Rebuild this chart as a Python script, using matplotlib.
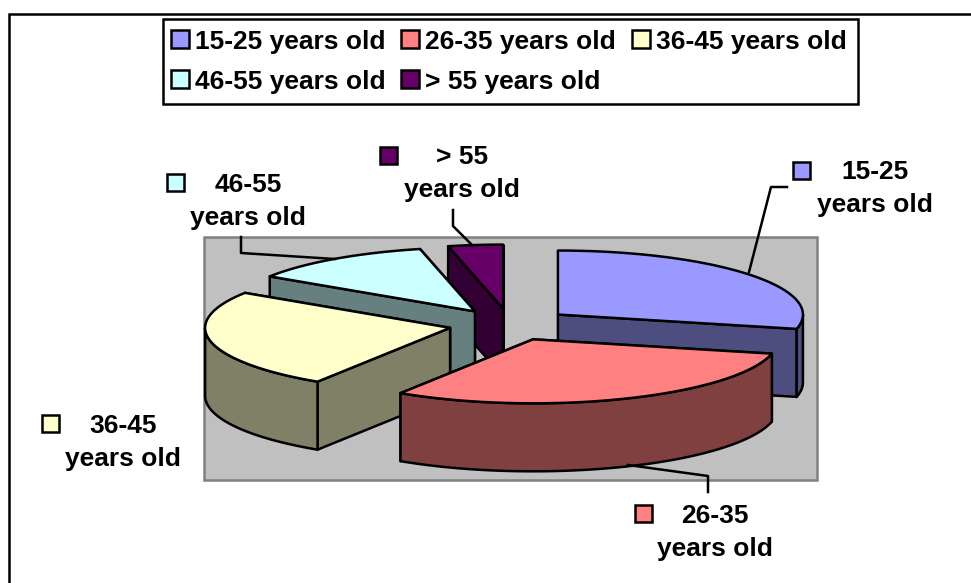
import numpy as np
import matplotlib
matplotlib.use('Agg')
import matplotlib.pyplot as plt
from matplotlib.patches import Rectangle

plt.rcParams['font.family'] = ['Liberation Sans', 'DejaVu Sans']

# values (percent)
categories = ['15-25', '26-35', '36-45', '46-55', '> 55']
shares = [28.6, 30.5, 25.1, 12.2, 3.6]
top_colors = ['#9999FF', '#FF8080', '#FFFFCC', '#CCFFFF', '#660066']
side_colors = ['#4D4D80', '#804040', '#808066', '#668080', '#330033']

# layout in image pixels
cx, cy = 510, 324.5
rx, ry = 245, 64
depth = 68
explode = 0.25
lw = 1.8

legend_x = [171, 401, 632, 171, 401]
legend_y = [39, 39, 39, 79, 79]
label_xy = [(875, 188.5), (715, 532.5), (123, 442.5), (248, 201.5), (462, 173.5)]
marker_xy = [(801, 170), (643, 513), (50, 423), (175, 182), (388, 155)]
leaders = [[(749, 272), (771, 187), (787, 187)],
           [(628, 465), (708, 476), (708, 492)],
           [(241, 237), (241, 253), (335, 259)],
           [(453, 210), (453, 226), (472, 245)]]


def ell(t, x0, y0):
    # t is clockwise from 12 o'clock, image y points down
    return x0 + rx * np.sin(t), y0 - ry * np.cos(t)


fig = plt.figure(figsize=(9.71, 5.83), dpi=100)
ax = fig.add_axes([0, 0, 1, 1])
ax.set_xlim(0, 971)
ax.set_ylim(583, 0)
ax.axis('off')

ax.add_patch(Rectangle((8.5, 14), 1000, 600, fc='white', ec='black', lw=lw))
ax.add_patch(Rectangle((204, 237), 613, 243, fc='#C0C0C0', ec='#808080', lw=lw))

edges = np.cumsum([0] + shares) / np.sum(shares) * 2 * np.pi
# back slices first
for i in [0, 4, 3, 2, 1]:
    t0, t1 = edges[i], edges[i + 1]
    mid = (t0 + t1) / 2
    x0, y0 = ell(mid, cx, cy)
    x0 = cx + explode * (x0 - cx)
    y0 = cy + explode * (y0 - cy)

    # radial walls, further back drawn first
    walls = []
    for t in (t0, t1):
        ex, ey = ell(t, x0, y0)
        walls.append(([x0, ex, ex, x0], [y0, ey, ey + depth, y0 + depth]))
    walls.sort(key=lambda w: np.mean(w[1]))
    for wx, wy in walls:
        ax.fill(wx, wy, fc=side_colors[i], ec='black', lw=lw, joinstyle='round')

    # outer rim, only the front half shows
    a, b = max(t0, np.pi / 2), min(t1, 3 * np.pi / 2)
    if a < b:
        tt = np.linspace(a, b, 100)
        ex, ey = ell(tt, x0, y0)
        ax.fill(np.r_[ex, ex[::-1]], np.r_[ey, ey[::-1] + depth],
                fc=side_colors[i], ec='black', lw=lw, joinstyle='round')

    tt = np.linspace(t0, t1, 150)
    ex, ey = ell(tt, x0, y0)
    ax.fill(np.r_[x0, ex], np.r_[y0, ey], fc=top_colors[i], ec='black', lw=lw,
            joinstyle='round')

for pts in leaders:
    xs, ys = zip(*pts)
    ax.plot(xs, ys, color='black', lw=lw)

# data labels
for i, cat in enumerate(categories):
    mx, my = marker_xy[i]
    ax.add_patch(Rectangle((mx - 8.5, my - 8.5), 17, 17, fc=top_colors[i], ec='black', lw=lw))
    lx, ly = label_xy[i]
    ax.text(lx, ly, cat + '\nyears old', ha='center', va='center', fontsize=19,
            fontweight='bold', linespacing=1.45)

# legend
ax.add_patch(Rectangle((163, 19), 695, 85, fc='white', ec='black', lw=lw))
for i, cat in enumerate(categories):
    ax.add_patch(Rectangle((legend_x[i], legend_y[i] - 9.5), 18, 18, fc=top_colors[i],
                           ec='black', lw=lw))
    ax.text(legend_x[i] + 24, legend_y[i] + 3, cat + ' years old', ha='left', va='center',
            fontsize=19, fontweight='bold')

fig.savefig('out.png', dpi=100)
